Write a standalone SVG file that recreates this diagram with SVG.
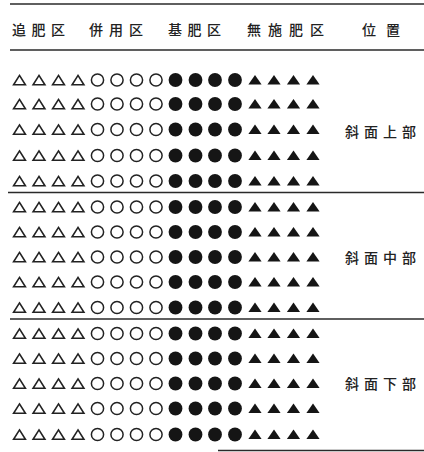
<svg xmlns="http://www.w3.org/2000/svg" width="424" height="452" viewBox="0 0 424 452">
<style>
.bg{fill:#fff}
.rule{stroke:#2a2a2a;stroke-width:1.3;fill:none}
.ot{fill:none;stroke:#222;stroke-width:1.6;stroke-linejoin:miter}
.oc{fill:none;stroke:#222;stroke-width:1.5}
.fc{fill:#151515}
.ft{fill:#151515}
.hd{font-family:"Noto Sans CJK JP","Noto Sans CJK SC",sans-serif;font-size:14px;font-weight:500;fill:#222}
</style>
<defs>
<path id="otri" class="ot" d="M0,-4.6 L5.9,4.8 L-5.9,4.8 Z"/>
<circle id="ocir" class="oc" r="6.1"/>
<circle id="fcir" class="fc" r="6.9"/>
<path id="ftri" class="ft" d="M0,-5 L6.6,4.6 L-6.6,4.6 Z"/>
<g id="row">
<use href="#otri" x="19.5"/><use href="#otri" x="39"/><use href="#otri" x="58.5"/><use href="#otri" x="78"/>
<use href="#ocir" x="97.5"/><use href="#ocir" x="117"/><use href="#ocir" x="136.5"/><use href="#ocir" x="156"/>
<use href="#fcir" x="175.5"/><use href="#fcir" x="195.5"/><use href="#fcir" x="215"/><use href="#fcir" x="235"/>
<use href="#ftri" x="255"/><use href="#ftri" x="274"/><use href="#ftri" x="293.5"/><use href="#ftri" x="313"/>
</g>
</defs>
<rect class="bg" width="424" height="452"/>
<g id="rules">
<line class="rule" x1="10" y1="4" x2="424" y2="4"/>
<line class="rule" x1="10" y1="50" x2="424" y2="50"/>
<line class="rule" x1="8" y1="192.5" x2="424" y2="192.5"/>
<line class="rule" x1="10" y1="319" x2="424" y2="319"/>
<line class="rule" x1="218" y1="450.5" x2="424" y2="450.5"/>
</g>
<g id="header">
<text class="hd" x="12" y="35" letter-spacing="5.5">追肥区</text>
<text class="hd" x="89" y="35" letter-spacing="6">併用区</text>
<text class="hd" x="168" y="35" letter-spacing="5.5">基肥区</text>
<text class="hd" x="247" y="35" letter-spacing="7">無施肥区</text>
<text class="hd" x="362" y="35" letter-spacing="10">位置</text>
</g>
<g id="upper">
<use href="#row" y="80"/>
<use href="#row" y="104"/>
<use href="#row" y="129.5"/>
<use href="#row" y="155.5"/>
<use href="#row" y="181"/>
<text class="hd" x="345" y="137" letter-spacing="5">斜面上部</text>
</g>
<g id="middle">
<use href="#row" y="207"/>
<use href="#row" y="232"/>
<use href="#row" y="257"/>
<use href="#row" y="282"/>
<use href="#row" y="307.5"/>
<text class="hd" x="345" y="263" letter-spacing="5">斜面中部</text>
</g>
<g id="lower">
<use href="#row" y="333.5"/>
<use href="#row" y="358.5"/>
<use href="#row" y="383.5"/>
<use href="#row" y="408.5"/>
<use href="#row" y="434.5"/>
<text class="hd" x="345" y="389" letter-spacing="5">斜面下部</text>
</g>
</svg>
